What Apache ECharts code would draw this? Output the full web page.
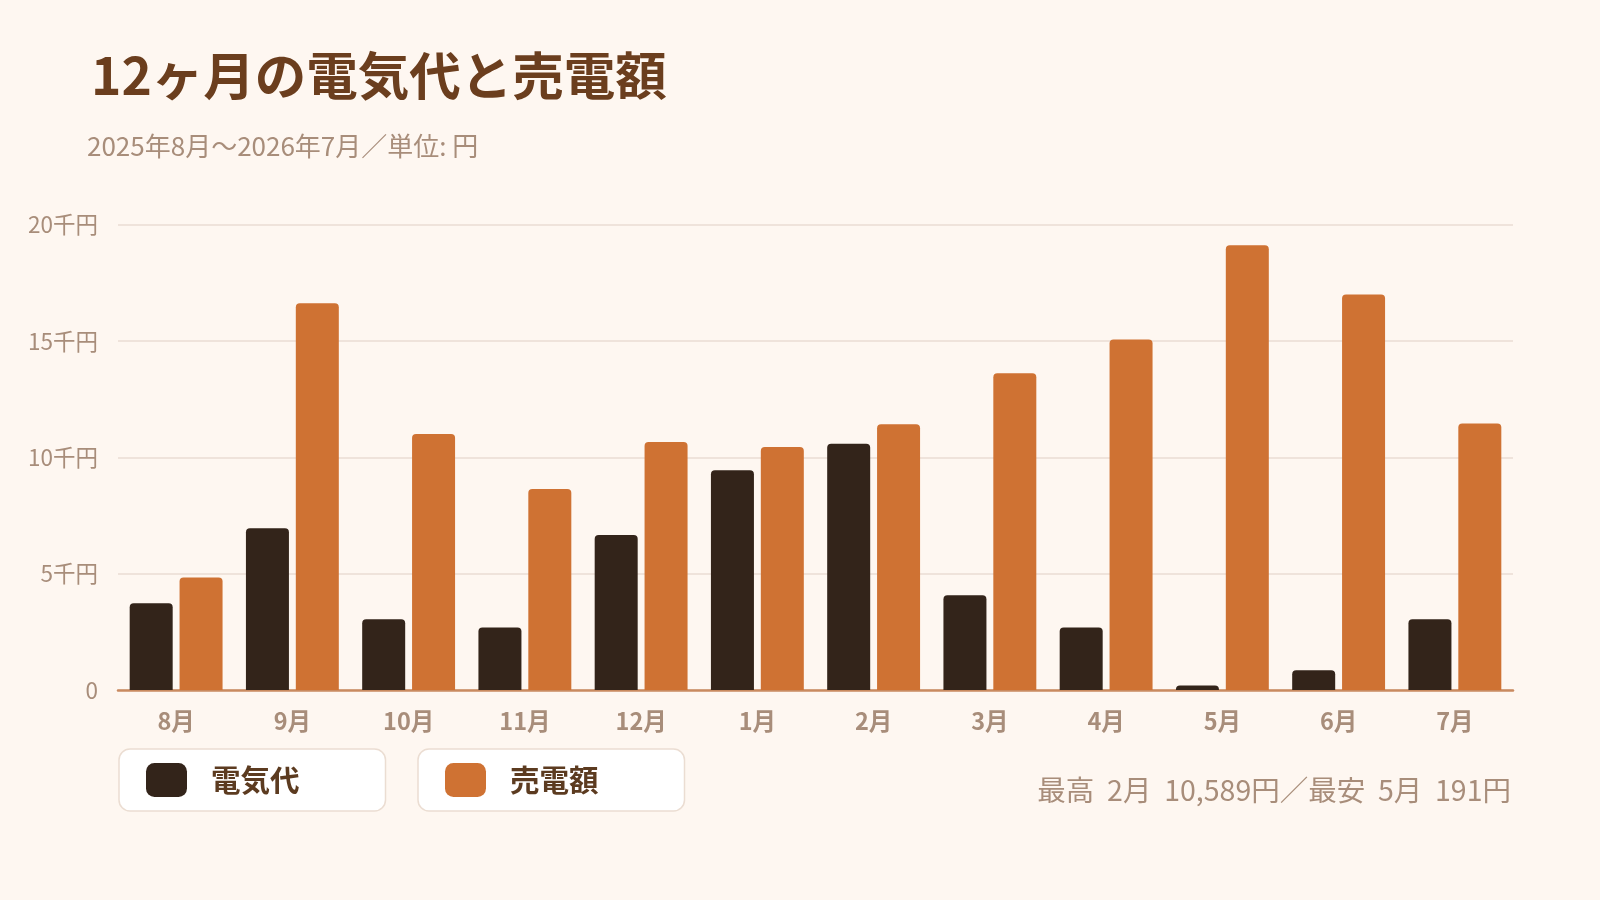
<!DOCTYPE html>
<html lang="ja">
<head>
    <meta charset="UTF-8">
    <title>12ヶ月の電気代と売電額</title>
    <script src="https://cdn.jsdelivr.net/npm/echarts@6/dist/echarts.min.js"></script>
    <style>
        html, body { margin: 0; padding: 0; background: #fef7f1; }
        #main { width: 1600px; height: 900px; }
    </style>
</head>
<body>
<div id="main"></div>
<script type="text/javascript">
    var months = ['8月', '9月', '10月', '11月', '12月', '1月', '2月', '3月', '4月', '5月', '6月', '7月'];
    var denkidai = [3725, 6950, 3040, 2690, 6660, 9450, 10589, 4070, 2690, 191, 850, 3040];
    var baidengaku = [4840, 16620, 11000, 8640, 10660, 10440, 11420, 13620, 15070, 19120, 17000, 11460];
    var yTicks = [0, 5000, 10000, 15000, 20000];

    var FONT = '"Noto Sans CJK JP", "Noto Sans", sans-serif';
    var muted = '#a88d7a';

    var myChart = echarts.init(document.getElementById('main'));

    // one legend per series so each gets its own white box
    function legendBox(name, left) {
        return {
            data: [name],
            left: left,
            top: 749,
            orient: 'horizontal',
            backgroundColor: '#ffffff',
            borderColor: '#ebddd2',
            borderWidth: 1.5,
            borderRadius: 11,
            padding: [14, 86, 14, 27],
            itemWidth: 41,
            itemHeight: 34,
            selectedMode: false,
            icon: 'roundRect',
            textStyle: {
                fontFamily: FONT,
                fontSize: 29.5,
                fontWeight: 'bold',
                color: '#5c3b20',
                padding: [0, 0, 0, 19]
            }
        };
    }

    var option = {
        backgroundColor: '#fef7f1',
        textStyle: { fontFamily: FONT },
        title: [
            {
                text: '12ヶ月の電気代と売電額',
                left: 86,
                top: 45,
                textStyle: { fontFamily: FONT, fontSize: 51.5, fontWeight: 'bold', color: '#6b3e1e' }
            },
            {
                text: '2025年8月～2026年7月／単位: 円',
                left: 82,
                top: 128,
                textStyle: { fontFamily: FONT, fontSize: 26, fontWeight: 'normal', color: muted }
            },
            {
                text: '最高  2月  10,589円／最安  5月  191円',
                right: 84,
                top: 771,
                textStyle: { fontFamily: FONT, fontSize: 28.5, fontWeight: 'normal', color: muted }
            }
        ],
        legend: [
            legendBox('電気代', 119),
            legendBox('売電額', 418)
        ],
        grid: {
            left: 118,
            right: 87,
            top: 224.7,
            bottom: 210,
            containLabel: false
        },
        xAxis: {
            type: 'category',
            data: months,
            axisLine: { lineStyle: { color: '#c98a60', width: 2.5 } },
            axisTick: { show: false },
            axisLabel: {
                fontFamily: FONT,
                fontSize: 23.5,
                fontWeight: 'bold',
                color: muted,
                margin: 19
            }
        },
        yAxis: {
            type: 'value',
            min: yTicks[0],
            max: yTicks[yTicks.length - 1],
            interval: 5000,
            axisLine: { show: false },
            axisTick: { show: false },
            splitLine: { lineStyle: { color: '#eaddd3', width: 1.5 } },
            axisLabel: {
                fontFamily: FONT,
                fontSize: 22.5,
                color: muted,
                margin: 20,
                formatter: function (v) {
                    return v === 0 ? '0' : (v / 1000) + '千円';
                }
            }
        },
        series: [
            {
                name: '電気代',
                type: 'bar',
                data: denkidai,
                barWidth: 43,
                barGap: '16%',
                itemStyle: { color: '#33241a', borderRadius: [4, 4, 0, 0] }
            },
            {
                name: '売電額',
                type: 'bar',
                data: baidengaku,
                barWidth: 43,
                barGap: '16%',
                itemStyle: { color: '#cf7233', borderRadius: [4, 4, 0, 0] }
            }
        ]
    };
    myChart.setOption(option);
</script>
</body>
</html>
